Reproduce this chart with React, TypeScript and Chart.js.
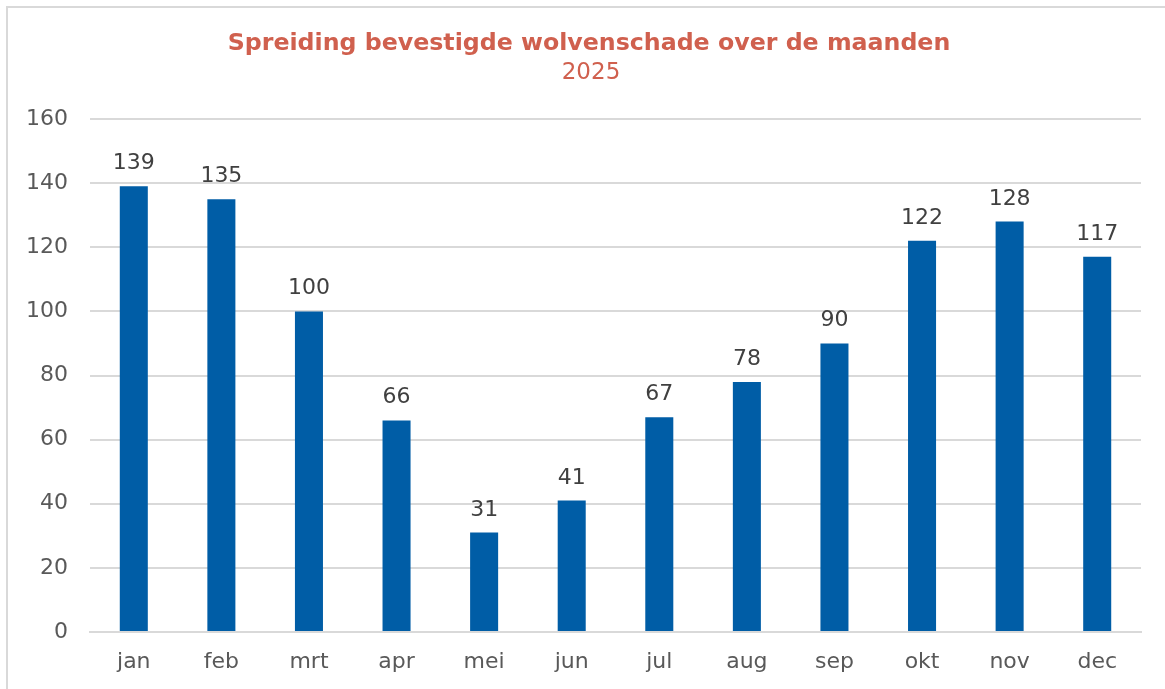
import React, { useEffect, useRef } from "react";
import { Chart, registerables } from "chart.js";

Chart.register(...registerables);

const months = ["jan", "feb", "mrt", "apr", "mei", "jun", "jul", "aug", "sep", "okt", "nov", "dec"];
const damages = [139, 135, 100, 66, 31, 41, 67, 78, 90, 122, 128, 117];
const titleText = "Spreiding bevestigde wolvenschade over de maanden";
const subtitleText = "2025";

const FONT = "'DejaVu Sans', Verdana, sans-serif";
const TEXT = "#595959";
const TITLE_COLOR = "#D0604E";

const valueLabels = {
  id: "valueLabels",
  afterDatasetsDraw(chart: any) {
    const ctx = chart.ctx;
    ctx.save();
    ctx.font = `22px ${FONT}`;
    ctx.fillStyle = "#404040";
    ctx.textAlign = "center";
    ctx.textBaseline = "alphabetic";
    const meta = chart.getDatasetMeta(0);
    meta.data.forEach((bar: any, i: number) => {
      ctx.fillText(String(chart.data.datasets[0].data[i]), bar.x, bar.y - 17);
    });
    ctx.restore();
  },
};

const titleBlock = {
  id: "titleBlock",
  afterDraw(chart: any) {
    const ctx = chart.ctx;
    ctx.save();
    ctx.textAlign = "center";
    ctx.textBaseline = "middle";
    ctx.fillStyle = TITLE_COLOR;
    ctx.font = `bold 23.7px ${FONT}`;
    ctx.fillText(titleText, 581, 36);
    ctx.font = `23px ${FONT}`;
    ctx.fillText(subtitleText, 583, 65);
    ctx.restore();
  },
};

export default function App() {
  const ref = useRef<HTMLCanvasElement>(null);
  useEffect(() => {
    document.body.style.margin = "0";
    const chart = new Chart(ref.current!, {
      type: "bar",
      data: {
        labels: months,
        datasets: [
          {
            data: damages,
            backgroundColor: "#005DA6",
            barPercentage: 0.32,
            categoryPercentage: 1,
          },
        ],
      },
      plugins: [valueLabels, titleBlock],
      options: {
        animation: false,
        responsive: false,
        layout: { padding: { left: 0, right: 24, top: 111, bottom: 0 } },
        plugins: {
          legend: { display: false },
          tooltip: { enabled: false },
          title: { display: false },
          subtitle: { display: false },
        },
        scales: {
          x: {
            grid: { display: false, drawTicks: false },
            border: { display: true, color: "#D9D9D9", width: 2 },
            ticks: { color: TEXT, font: { family: FONT, size: 22 }, padding: 17 },
            afterFit(scale: any) {
              scale.height = 57;
            },
          },
          y: {
            min: 0,
            max: 160,
            ticks: { stepSize: 20, color: TEXT, font: { family: FONT, size: 22 }, padding: 22 },
            grid: { color: "#D9D9D9", lineWidth: 2, drawTicks: false },
            border: { display: false },
            afterFit(scale: any) {
              scale.width = 82;
            },
          },
        },
      },
    });
    return () => chart.destroy();
  }, []);
  return (
    <div
      style={{
        position: "absolute",
        left: 6,
        top: 6,
        width: 1165,
        height: 689,
        borderLeft: "2px solid #D9D9D9",
        borderTop: "2px solid #D9D9D9",
        background: "#fff",
      }}
    >
      <canvas ref={ref} width={1157} height={681} style={{ display: "block" }} />
    </div>
  );
}
